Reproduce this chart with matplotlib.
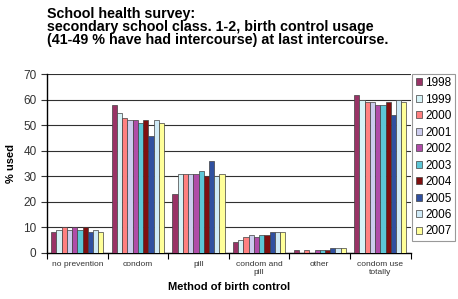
import numpy as np
import matplotlib.pyplot as plt
import matplotlib as mpl

mpl.rcParams['font.family'] = ['Liberation Sans', 'DejaVu Sans']

categories = ['no prevention', 'condom', 'pill', 'condom and\npill', 'other', 'condom use\ntotally']
years = ['1998', '1999', '2000', '2001', '2002', '2003', '2004', '2005', '2006', '2007']
colors = ['#993366', '#d6f3f7', '#ff8080', '#ccccee', '#b04ca8', '#5cc6d6',
          '#800f0f', '#3050a0', '#cfeaf7', '#ffff99']

# values per year, in category order
v1998 = [8, 58, 23, 4, 1, 62]
v1999 = [9, 55, 31, 5, 0, 60]
v2000 = [10, 53, 31, 6, 1, 59]
v2001 = [9, 52, 31, 7, 0, 59]
v2002 = [10, 52, 31, 6, 1, 58]
v2003 = [9, 51, 32, 7, 1, 58]
v2004 = [10, 52, 30, 7, 1, 59]
v2005 = [8, 46, 36, 8, 2, 54]
v2006 = [9, 52, 30, 8, 2, 60]
v2007 = [8, 51, 31, 8, 2, 59]
series = [v1998, v1999, v2000, v2001, v2002, v2003, v2004, v2005, v2006, v2007]

fig = plt.figure(figsize=(4.58, 2.99), dpi=100)
ax = fig.add_axes([0.1026, 0.155, 0.794, 0.596])

x = np.arange(len(categories))
w = 0.086
for i in range(len(years)):
    ax.bar(x - 4.5*w + i*w, series[i], w, color=colors[i], edgecolor='#404040',
           linewidth=0.5, label=years[i], zorder=3)

ax.set_xlim(-0.5, len(categories) - 0.5)
ax.set_ylim(0, 70)
ax.set_yticks(range(0, 71, 10))
ax.yaxis.grid(True, color='#303030', linewidth=0.8, zorder=0)
ax.set_xticks(np.arange(-0.5, len(categories), 1.0))
ax.set_xticklabels([])
ax.set_xticks(x, minor=True)
ax.set_xticklabels(categories, minor=True, fontsize=6, color='#333333')
ax.tick_params(axis='x', which='minor', length=0, pad=6)
ax.tick_params(axis='x', which='major', length=4, direction='out')
ax.tick_params(axis='y', labelsize=8.5, length=4, direction='out', colors='#333333')
for s in ['top', 'right']:
    ax.spines[s].set_visible(False)
ax.spines['left'].set_linewidth(1)
ax.spines['bottom'].set_linewidth(1)

ax.set_ylabel('% used', fontsize=8, fontweight='bold', labelpad=5)
ax.set_xlabel('Method of birth control', fontsize=8, fontweight='bold', labelpad=4)

fig.text(0.102, 0.975, 'School health survey:\nsecondary school class. 1-2, birth control usage\n(41-49 % have had intercourse) at last intercourse.',
         fontsize=10.3, fontweight='bold', va='top', ha='left', linespacing=0.88)

leg = ax.legend(loc='upper left', bbox_to_anchor=(1.005, 1.005), fontsize=8.5,
                frameon=True, fancybox=False, edgecolor='#808080',
                handlelength=0.55, handleheight=0.55, handletextpad=0.25,
                labelspacing=0.38, borderpad=0.3, borderaxespad=0)
leg.get_frame().set_linewidth(0.8)

plt.savefig('out.png', dpi=100)
